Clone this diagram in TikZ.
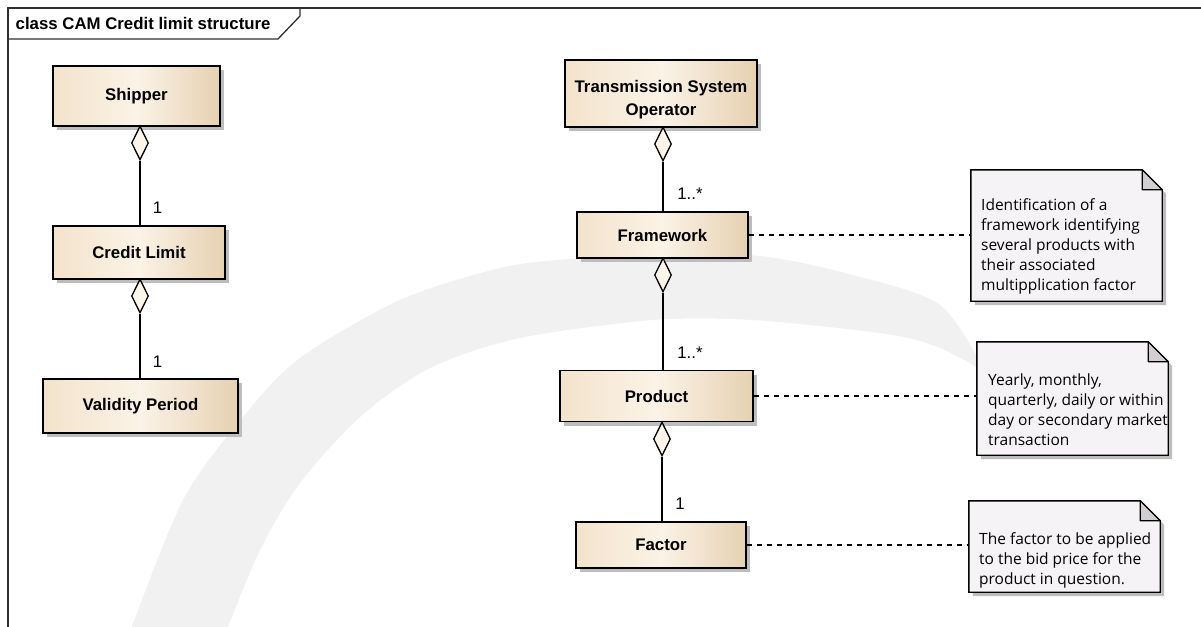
\documentclass[tikz,border=0pt]{standalone}
\usepackage{fontspec}
\setmainfont{Liberation Sans}
\newfontfamily\notefont{Open Sans}
\usetikzlibrary{shapes.geometric,shadows}
\definecolor{clsL}{HTML}{F3E3CB}
\definecolor{clsM}{HTML}{FBF3E7}
\definecolor{clsR}{HTML}{E6D1B2}
\definecolor{diamc}{HTML}{FDF5EA}
\definecolor{notec}{HTML}{F6F3F6}
\definecolor{foldc}{HTML}{D2CED2}
\definecolor{shadowc}{HTML}{BDBDBD}
\definecolor{wmc}{HTML}{F1F1F1}
\definecolor{framec}{HTML}{303030}
\begin{document}
\begin{tikzpicture}[x=1pt,y=-1pt,
  cls/.style={draw=black, line width=1.4pt, left color=clsL, right color=clsR, middle color=clsM,
    inner sep=0pt, font=\bfseries\fontsize{16.8}{20}\selectfont,
    drop shadow={shadow xshift=4pt, shadow yshift=-4pt, fill=shadowc, opacity=1}},
  clstext/.style={inner sep=0pt, font=\bfseries\fontsize{16.8}{23}\selectfont, align=center},
  agg/.style={diamond, draw=black, line width=1.3pt, fill=diamc, inner sep=0pt,
    minimum width=17pt, minimum height=34pt},
  assoc/.style={draw=black, line width=1.3pt},
  mult/.style={inner sep=0pt, font=\fontsize{16.8}{20}\selectfont},
  notearea/.style={draw=none, inner sep=0pt},
  notepath/.style={draw=black, line width=1.4pt, fill=notec,
    drop shadow={shadow xshift=4pt, shadow yshift=-4pt, fill=shadowc, opacity=1}},
  foldpath/.style={draw=black, line width=1.2pt, fill=foldc, line join=round},
  notetext/.style={inner sep=0pt, anchor=north west, align=left,
    font=\notefont\fontsize{15.5}{20}\selectfont},
  dashline/.style={draw=black, line width=1.3pt, dash pattern=on 5pt off 5pt},
  framepath/.style={draw=framec, line width=1.3pt}
]
\useasboundingbox (0,0) rectangle (1201,626);
\fill[white] (0,0) rectangle (1201,626);

% watermark arc
\fill[wmc] plot[smooth] coordinates {(130,632) (183,500) (243,417) (300,358) (400,300) (500,268) (570,259) (660,254) (760,256) (853,275) (940,305) (985,372)}
  -- plot[smooth] coordinates {(985,372) (940,348) (887,334) (753,320) (653,320) (520,338) (430,368) (360,417) (300,483) (260,550) (226,632)} -- cycle;

% frame
\draw[framepath] (8,640) -- (8,8) -- (1210,8);
\draw[framepath] (8,39) -- (278,39) -- (300,16) -- (300,8);
\node[anchor=base west, inner sep=0pt, font=\bfseries\fontsize{16.8}{20}\selectfont] (title) at (15.5,30) {class CAM Credit limit structure};

% left column
\node[cls, minimum width=167pt, minimum height=60pt] (shipper) at (136.5,96) {Shipper};
\node[cls, minimum width=172pt, minimum height=53pt] (credit) at (139,252.5) {Credit Limit};
\node[cls, minimum width=195pt, minimum height=54pt] (validity) at (140.5,406) {Validity Period};

\node[agg] (d1) at (140,143) {};
\node[agg] (d2) at (140,296) {};
\draw[assoc] (d1.south) -- (d1.south |- credit.north);
\draw[assoc] (d2.south) -- (d2.south |- validity.north);
\node[mult] (m1) at (157.5,208) {1};
\node[mult] (m2) at (157.5,362) {1};

% right column
\node[cls, minimum width=192pt, minimum height=67pt] (tso) at (661,93.5) {};
\node[clstext] (tsotext) at (661,100) {Transmission System\\Operator};
\node[cls, minimum width=171pt, minimum height=46pt] (framework) at (662.5,235) {Framework};
\node[cls, minimum width=193pt, minimum height=51pt] (product) at (656.5,396) {Product};
\node[cls, minimum width=170pt, minimum height=46pt] (factor) at (661,545) {Factor};

\node[agg] (d3) at (663,144) {};
\node[agg] (d4) at (663,275) {};
\node[agg] (d5) at (662,439) {};
\draw[assoc] (d3.south) -- (d3.south |- framework.north);
\draw[assoc] (d4.south) -- (d4.south |- product.north);
\draw[assoc] (d5.south) -- (d5.south |- factor.north);
\node[mult] (m3) at (690,194) {1..*};
\node[mult] (m4) at (690,353) {1..*};
\node[mult] (m5) at (680,504) {1};

% notes
\node[notearea, minimum width=191pt, minimum height=131pt] (n1) at (1066.5,235.5) {};
\node[notearea, minimum width=191pt, minimum height=113pt] (n2) at (1072.5,398.5) {};
\node[notearea, minimum width=191pt, minimum height=91pt] (n3) at (1064.5,546.5) {};

\foreach \n in {n1,n2,n3}{
  \path[notepath] (\n.north west) -- ([xshift=-20pt]\n.north east) -- ([yshift=-20pt]\n.north east)
    -- (\n.south east) -- (\n.south west) -- cycle;
  \path[foldpath] ([xshift=-20pt]\n.north east) -- ([xshift=-20pt,yshift=-20pt]\n.north east)
    -- ([yshift=-20pt]\n.north east) -- cycle;
}

\node[notetext] (t1) at (981,198.5) {Identification of a\\framework identifying\\several products with\\their associated\\multipplication factor};
\node[notetext] (t2) at (988,373.5) {Yearly, monthly,\\quarterly, daily or within\\day or secondary market\\transaction};
\node[notetext] (t3) at (979,532) {The factor to be applied\\to the bid price for the\\product in question.};

% note connectors
\draw[dashline] (framework.east) -- (framework.east -| n1.west);
\draw[dashline] (product.east) -- (product.east -| n2.west);
\draw[dashline] (factor.east) -- (factor.east -| n3.west);
\end{tikzpicture}
\end{document}
